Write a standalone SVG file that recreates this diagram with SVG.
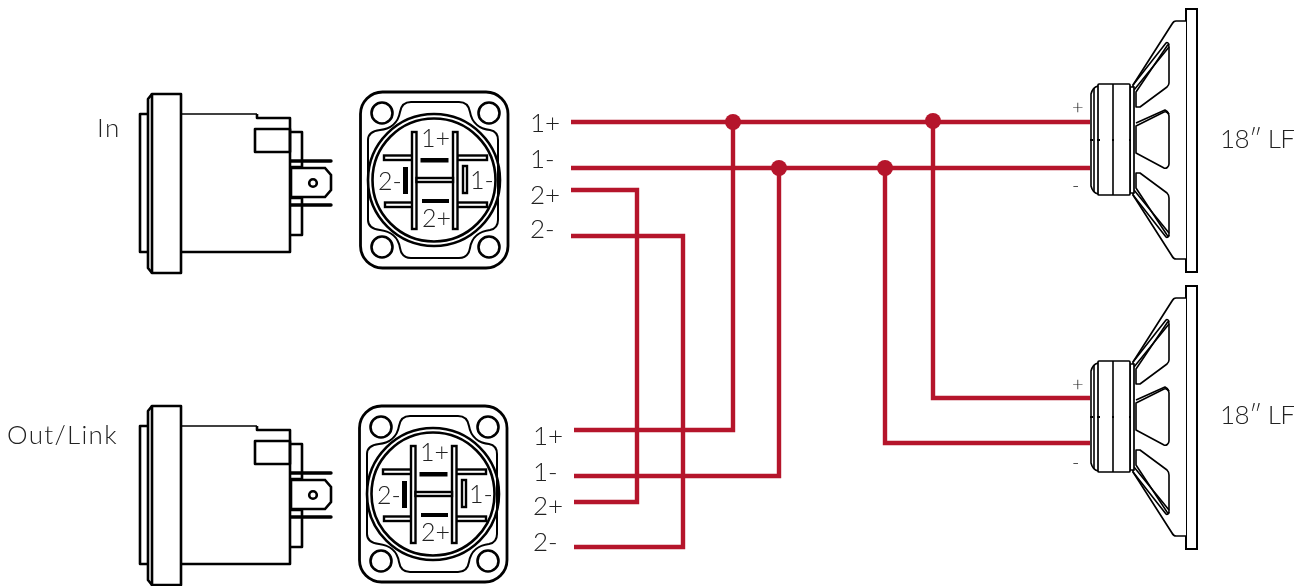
<svg xmlns="http://www.w3.org/2000/svg" width="1309" height="586" viewBox="0 0 1309 586">
<style>
.k{fill:none;stroke:#000;stroke-width:2.6;stroke-linejoin:round}
.m{fill:#fff;stroke:#000;stroke-width:2.400}
.t{fill:none;stroke:#000;stroke-width:1.6;stroke-linejoin:round}
.b{fill:#fff;stroke:#000;stroke-width:2.6}
.s{fill:#fff;stroke:#000;stroke-width:1.7}
.w{fill:none;stroke:#b5152b;stroke-width:4.400;stroke-linejoin:miter}
.d{fill:#b5152b}
text{font-family:Lato,"Liberation Sans",sans-serif;font-weight:300;fill:#222;filter:url(#gray)}
.l{font-size:26px}
.c{font-size:25px}
.p{font-size:20px}
</style>
<defs>
<filter id="gray" x="-20%" y="-20%" width="140%" height="140%" color-interpolation-filters="sRGB"><feOffset dx="0" dy="0"/></filter>
<g id="side">
<path class="k" d="M148 114H140V252H148"/>
<path class="k" d="M152 94L148 99V268L152 273"/>
<rect class="k" x="152" y="94" width="29" height="179"/>
<path class="t" d="M181 114H257"/>
<path class="k" d="M257 114V118H290V252H181"/>
<rect class="k" x="255" y="129" width="35" height="23"/>
<path class="k" d="M290 132H302V167H291M291 198H302V235H290"/>
<path class="k" d="M291 161H331M291 205H331" style="stroke-width:3.4;stroke-linecap:round"/>
<path class="b" d="M291 168H325L331 175V190L325 197H291Z"/>
<circle class="k" cx="313" cy="183" r="3.800"/>
</g>
<g id="face">
<rect class="k" x="360.500" y="92" width="147.500" height="176" rx="22" style="stroke-width:2.800"/>
<circle class="k" cx="382" cy="113" r="10.500"/>
<circle class="k" cx="489" cy="113" r="10.500"/>
<circle class="k" cx="382" cy="247" r="10.500"/>
<circle class="k" cx="489" cy="247" r="10.500"/>
<path class="k" style="stroke-width:2" d="M411 102H459C466 102 469 106 470 112C472 124 481 129 490 130C495 131 498 134 498 140V220C498 226 495 229 490 230C481 231 472 236 470 248C469 254 466 258 459 258H411C404 258 401 254 400 248C398 236 389 231 380 230C372 229 368 226 368 220V140C368 134 372 131 380 130C389 129 398 124 400 112C401 106 404 102 411 102Z"/>
<circle class="k" cx="434" cy="180" r="66"/>
<circle class="k" cx="434" cy="180" r="61.500"/>
<rect class="m" x="384" y="155.500" width="29" height="4.500"/>
<rect class="m" x="385" y="202.500" width="28" height="4.500"/>
<rect class="m" x="457" y="155.500" width="30" height="4.500"/>
<rect class="m" x="457" y="202.500" width="30" height="4.500"/>
<rect class="m" x="412" y="132" width="4.500" height="97"/>
<rect class="m" x="453" y="132" width="4.500" height="97"/>
<rect class="m" x="416.500" y="178" width="36.500" height="4"/>
<rect x="420.500" y="158" width="28" height="4.500" fill="#000"/>
<rect x="422" y="199" width="27" height="4" fill="#000"/>
<rect x="403" y="167" width="5" height="27" fill="#000"/>
<rect class="m" x="463" y="166" width="4" height="27"/>
<text class="c" x="421" y="147">1+</text>
<text class="c" x="378" y="190">2-</text>
<text class="c" x="470" y="189">1-</text>
<text class="c" x="422" y="227">2+</text>
</g>
<g id="speaker">
<rect class="s" x="1186" y="9" width="11" height="263" style="stroke-width:2"/>
<path class="s" d="M1186 21H1176C1174 21 1173 22 1172 24L1133 85V195L1172 256C1173 258 1174 259 1176 259H1186"/>
<path class="t" d="M1133 85L1166 43C1167 42 1169 43 1169 45M1134 90L1169 47M1134 190L1169 233M1133 195L1166 237C1167 238 1169 237 1169 235"/>
<path class="t" d="M1136 92L1167 46C1168 44 1169 45 1169 47V83C1169 85 1168 86 1167 87L1140 107H1136Z"/>
<path class="t" d="M1136 173H1140L1167 193C1168 194 1169 196 1169 198V234C1169 236 1168 237 1167 235L1136 188Z"/>
<path class="t" d="M1136 126L1164 112C1166 111 1169 113 1169 116V164C1169 167 1166 169 1164 168L1136 153Z"/>
<path class="t" d="M1136 123L1165 110C1167 111 1168 112 1169 114"/>
<path class="s" d="M1130 87H1134V193H1130Z"/>
<path class="t" d="M1098 86C1094 87 1092 90 1091 94V186C1092 190 1094 193 1098 194"/>
<path class="t" d="M1094 88V192"/>
<rect class="s" x="1098" y="84" width="32" height="111" rx="1"/>
<path class="t" d="M1113 84V195"/>
<path class="t" style="stroke-width:2" d="M1090 140h3M1097 140h3M1112 140h2M1129 140h2"/>
</g>
</defs>
<g id="connectors">
<path class="w" d="M571 122H1090M571 168H1090"/>
<path class="w" d="M571 190H637V502H574"/>
<path class="w" d="M571 236H683V547H574"/>
<path class="w" d="M574 430H733V122"/>
<path class="w" d="M574 476H779V168"/>
<path class="w" d="M933 122V398H1090"/>
<path class="w" d="M885 168V443H1090"/>
<circle class="d" cx="733" cy="122" r="8"/>
<circle class="d" cx="933" cy="121" r="8"/>
<circle class="d" cx="779" cy="168" r="8"/>
<circle class="d" cx="885" cy="168" r="8"/>
</g>
<g id="in-side"><use href="#side"/><text class="l" x="97" y="137" letter-spacing="1.500">In</text></g>
<g id="in-face"><use href="#face"/>
<text class="l" x="530" y="132">1+</text><text class="l" x="530" y="168">1-</text><text class="l" x="530" y="204">2+</text><text class="l" x="530" y="238">2-</text></g>
<g id="out-side"><use href="#side" y="312"/><text class="l" x="7" y="444" letter-spacing="1.300">Out/Link</text></g>
<g id="out-face"><use href="#face" x="-1" y="314"/>
<text class="l" x="533" y="445">1+</text><text class="l" x="533" y="481">1-</text><text class="l" x="533" y="515">2+</text><text class="l" x="533" y="551">2-</text></g>
<g id="speaker-1"><use href="#speaker"/><text class="p" x="1072" y="114">+</text><text class="p" x="1072" y="192">-</text><text class="l" x="1220" y="148" textLength="75">18″ LF</text></g>
<g id="speaker-2"><use href="#speaker" y="277"/><text class="p" x="1072" y="391">+</text><text class="p" x="1072" y="469">-</text><text class="l" x="1220" y="424" textLength="75">18″ LF</text></g>
</svg>
